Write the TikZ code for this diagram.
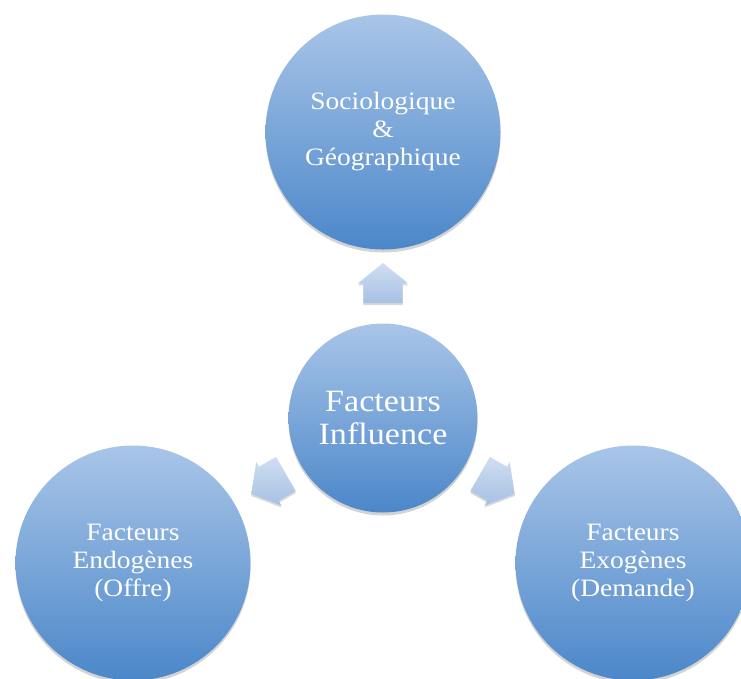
\documentclass[tikz,border=0pt]{standalone}
\usepackage{fontspec}
\setmainfont{Liberation Serif}[FakeStretch=1.1]
\usepackage{tikz}
\usetikzlibrary{shapes.arrows,shadows,positioning}

\definecolor{circtop}{HTML}{A9C5E8}
\definecolor{circbot}{HTML}{4B87C9}
\definecolor{arrtop}{HTML}{CFDEF2}
\definecolor{arrbot}{HTML}{A6C0E3}

\begin{document}
\begin{tikzpicture}[x=1pt,y=-1pt,
                    main node/.style={circle,top color=circtop,bottom color=circbot,draw=none,
                      text=white,align=center,inner sep=0pt,
                      drop shadow={shadow xshift=0pt,shadow yshift=-3pt,opacity=0.35},
                      font=\fontsize{25}{28}\selectfont,minimum size=235pt},
                    flow arrow/.style={single arrow,top color=arrtop,bottom color=arrbot,draw=none,
                      minimum height=40pt,single arrow head extend=5.5pt,
                      single arrow tip angle=102,inner xsep=0pt,inner ysep=19.5pt,
                      drop shadow={shadow xshift=0pt,shadow yshift=-2pt,opacity=0.3}}]
\useasboundingbox (0,0) rectangle (741,678);
\clip (0,0) rectangle (741,678);

 \node[main node] (Socio) at (383,132) {Sociologique\\\&\\Géographique};
 \node[main node] (Endo) at (133,563) {Facteurs\\Endogènes\\(Offre)};
 \node[main node] (Exo) at (633,563) {Facteurs\\Exogènes\\(Demande)};

 \node[main node,minimum size=189pt,font=\fontsize{31}{33}\selectfont] (Influence) at (383,418) {Facteurs\\Influence};

 % arrows from the centre outwards
 \node[flow arrow,rotate=90] (ArrowUp) at (383,291) {};
 \node[flow arrow,rotate=210] (ArrowLeft) at (275.5,480) {};
 \node[flow arrow,rotate=-30] (ArrowRight) at (490.5,480) {};

\end{tikzpicture}
\end{document}
